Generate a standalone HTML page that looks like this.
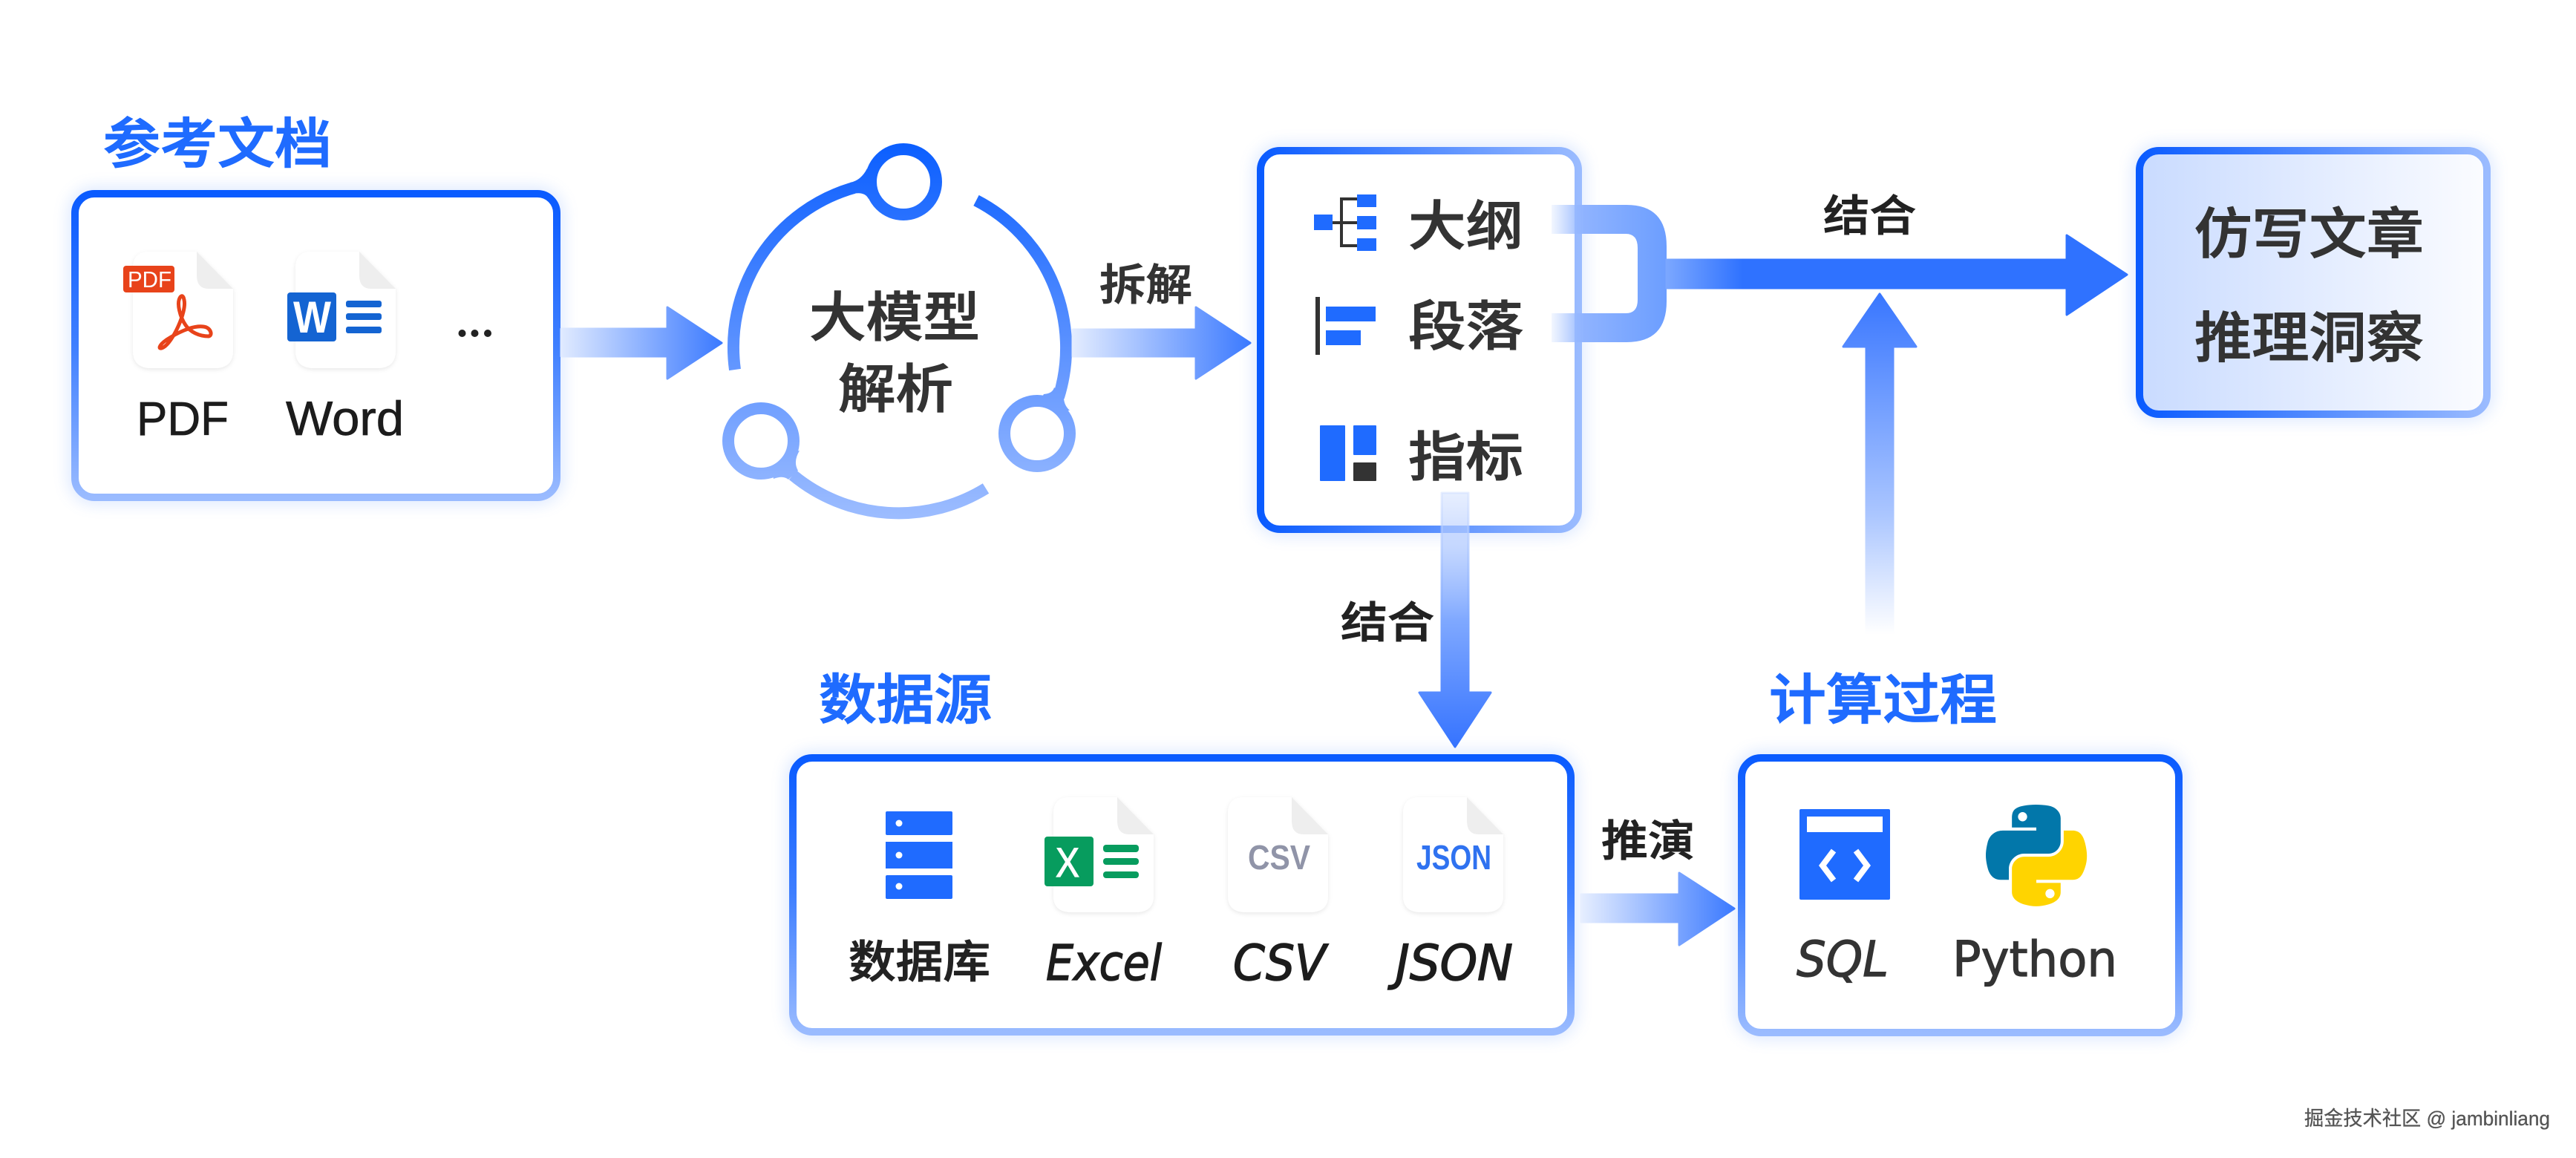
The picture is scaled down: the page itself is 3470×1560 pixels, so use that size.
<!DOCTYPE html>
<html><head><meta charset="utf-8"><style>
html,body{margin:0;padding:0;background:#fff}
svg{display:block}
text{font-family:"Liberation Sans","Noto Sans CJK SC",sans-serif}
.t{font-family:"Noto Sans CJK SC","Liberation Sans",sans-serif;font-weight:500;fill:#1F6BFF;stroke:#1F6BFF;stroke-width:1.4}
.c{font-family:"Noto Sans CJK SC","Liberation Sans",sans-serif;font-weight:500;fill:#333;stroke:#333;stroke-width:1.1}
.d{font-family:"Noto Sans CJK SC","Liberation Sans",sans-serif;font-weight:500;fill:#222;stroke:#222;stroke-width:1}
.i{font-family:"DejaVu Sans","Liberation Sans",sans-serif;font-style:italic;fill:#1c1c1c;stroke:#1c1c1c;stroke-width:1.5}
.s{font-family:"DejaVu Sans","Liberation Sans",sans-serif;fill:#333;stroke:#333;stroke-width:1.2}
.l{fill:#1c1c1c;stroke:#1c1c1c;stroke-width:.7}
</style></head><body>
<svg width="3470" height="1560" viewBox="0 0 3470 1560" xmlns="http://www.w3.org/2000/svg">
<defs>
<linearGradient id="bv" x1="0" y1="0" x2="0" y2="1"><stop offset="0" stop-color="#0A5BFF"/><stop offset=".5" stop-color="#3F7FFF"/><stop offset="1" stop-color="#9ABBFF"/></linearGradient>
<linearGradient id="bh" x1="0" y1="0" x2="1" y2="0"><stop offset="0" stop-color="#0A5BFF"/><stop offset="1" stop-color="#9ABBFF"/></linearGradient>
<linearGradient id="f3" x1="0" y1="0" x2="1" y2="0"><stop offset="0" stop-color="#C9DBFF"/><stop offset="1" stop-color="#FBFCFF"/></linearGradient>
<linearGradient id="ring" gradientUnits="userSpaceOnUse" x1="0" y1="190" x2="0" y2="700"><stop offset="0" stop-color="#0A5EFF"/><stop offset=".55" stop-color="#5C92FF"/><stop offset="1" stop-color="#9DBDFF"/></linearGradient>
<linearGradient id="a1" gradientUnits="userSpaceOnUse" x1="756" y1="0" x2="974" y2="0"><stop offset="0" stop-color="#E0EAFF"/><stop offset="1" stop-color="#3A79FF"/></linearGradient>
<linearGradient id="a2" gradientUnits="userSpaceOnUse" x1="1445" y1="0" x2="1686" y2="0"><stop offset="0" stop-color="#E3ECFF"/><stop offset="1" stop-color="#3A79FF"/></linearGradient>
<linearGradient id="a4" gradientUnits="userSpaceOnUse" x1="2130" y1="0" x2="2338" y2="0"><stop offset="0" stop-color="#E6EEFF"/><stop offset="1" stop-color="#3A79FF"/></linearGradient>
<linearGradient id="au" gradientUnits="userSpaceOnUse" x1="2085" y1="0" x2="2245" y2="0"><stop offset="0" stop-color="#A9C6FF" stop-opacity=".05"/><stop offset=".3" stop-color="#8FB3FF"/><stop offset="1" stop-color="#6C9EFF"/></linearGradient>
<linearGradient id="am" gradientUnits="userSpaceOnUse" x1="2245" y1="0" x2="2450" y2="0"><stop offset="0" stop-color="#7BA7FF"/><stop offset=".5" stop-color="#2F72FF"/><stop offset="1" stop-color="#2F72FF"/></linearGradient>
<linearGradient id="ad" gradientUnits="userSpaceOnUse" x1="0" y1="664" x2="0" y2="1008"><stop offset="0" stop-color="#CFDEFF" stop-opacity=".5"/><stop offset=".5" stop-color="#7FA8FF"/><stop offset="1" stop-color="#3573FF"/></linearGradient>
<linearGradient id="ap" gradientUnits="userSpaceOnUse" x1="0" y1="855" x2="0" y2="394"><stop offset="0" stop-color="#FFFFFF"/><stop offset=".35" stop-color="#ABC6FF"/><stop offset="1" stop-color="#3876FF"/></linearGradient>
<filter id="g" x="-15%" y="-15%" width="130%" height="130%"><feGaussianBlur stdDeviation="11"/></filter>
<filter id="fs" x="-20%" y="-20%" width="140%" height="140%"><feDropShadow dx="0" dy="2" stdDeviation="3" flood-color="#000" flood-opacity=".09"/></filter>
</defs>

<!-- Box 1 -->
<rect x="101" y="261" width="649" height="409" rx="26" fill="none" stroke="#7FABFF" stroke-width="12" opacity=".42" filter="url(#g)"/>
<rect x="101" y="261" width="649" height="409" rx="26" fill="#fff" stroke="url(#bv)" stroke-width="10"/>
<!-- Box 2 -->
<rect x="1698" y="203" width="428" height="510" rx="26" fill="none" stroke="#7FABFF" stroke-width="12" opacity=".42" filter="url(#g)"/>
<rect x="1698" y="203" width="428" height="510" rx="26" fill="#fff" stroke="url(#bh)" stroke-width="10"/>
<!-- Box 3 -->
<rect x="2882" y="203" width="468" height="355" rx="26" fill="none" stroke="#7FABFF" stroke-width="12" opacity=".42" filter="url(#g)"/>
<rect x="2882" y="203" width="468" height="355" rx="26" fill="url(#f3)" stroke="url(#bh)" stroke-width="10"/>
<!-- Box 4 -->
<rect x="1068" y="1021" width="1048" height="369" rx="26" fill="none" stroke="#7FABFF" stroke-width="12" opacity=".42" filter="url(#g)"/>
<rect x="1068" y="1021" width="1048" height="369" rx="26" fill="#fff" stroke="url(#bv)" stroke-width="10"/>
<!-- Box 5 -->
<rect x="2346" y="1021" width="589" height="370" rx="26" fill="none" stroke="#7FABFF" stroke-width="12" opacity=".42" filter="url(#g)"/>
<rect x="2346" y="1021" width="589" height="370" rx="26" fill="#fff" stroke="url(#bv)" stroke-width="10"/>

<!-- Titles -->
<text class="t" x="139" y="219" font-size="73" textLength="308" lengthAdjust="spacingAndGlyphs">参考文档</text>
<text class="t" x="1103" y="968" font-size="73" textLength="233" lengthAdjust="spacingAndGlyphs">数据源</text>
<text class="t" x="2383" y="968" font-size="73" textLength="307" lengthAdjust="spacingAndGlyphs">计算过程</text>

<!-- PDF file -->
<g transform="translate(179,339)" filter="url(#fs)"><path d="M22 0H86L135 50V133Q135 157 110 157H25Q0 157 0 133V22Q0 0 22 0Z" fill="#fff"/><path d="M86 0L135 50H102Q86 50 86 32Z" fill="#EEE"/></g>
<rect x="166" y="358" width="69" height="36" rx="4" fill="#E8431A"/>
<text x="172" y="387" font-size="31" fill="#fff" textLength="59" lengthAdjust="spacingAndGlyphs">PDF</text>
<path d="M243 400C237 408 243 428 250 438C256 447 268 453 281 453C287 452 284 441 274 440C258 438 236 450 224 458C214 465 212 472 220 468C232 462 252 420 248 404C247 398 245 398 243 400Z" fill="none" stroke="#E8431A" stroke-width="5"/>

<!-- Word file -->
<g transform="translate(398,339)" filter="url(#fs)"><path d="M22 0H86L135 50V133Q135 157 110 157H25Q0 157 0 133V22Q0 0 22 0Z" fill="#fff"/><path d="M86 0L135 50H102Q86 50 86 32Z" fill="#EEE"/></g>
<rect x="387" y="394" width="66" height="66" rx="4" fill="#1464D2"/>
<text x="395" y="448" font-size="60" font-weight="700" fill="#fff" textLength="51" lengthAdjust="spacingAndGlyphs">W</text>
<rect x="466" y="405" width="48" height="9" rx="3" fill="#1464D2"/><rect x="466" y="422" width="48" height="9" rx="3" fill="#1464D2"/><rect x="466" y="440" width="48" height="9" rx="3" fill="#1464D2"/>
<circle cx="622.5" cy="449" r="5" fill="#222"/><circle cx="639.5" cy="449" r="5" fill="#222"/><circle cx="657" cy="449" r="5" fill="#222"/>
<text class="l" x="184" y="586" font-size="64" textLength="124" lengthAdjust="spacingAndGlyphs">PDF</text>
<text class="l" x="385" y="586" font-size="65" textLength="159" lengthAdjust="spacingAndGlyphs">Word</text>

<!-- Arrow 1 -->
<path d="M756 443H899V414L972 462L899 510V480H756Z" fill="url(#a1)" stroke="url(#a1)" stroke-width="3" stroke-linejoin="round"/>

<!-- Ring -->
<g fill="none" stroke="url(#ring)" stroke-width="16">
<circle cx="1217" cy="245" r="44"/><circle cx="1397" cy="584" r="44"/><circle cx="1025" cy="594" r="44"/>
<path d="M990 498A223.5 223.5 0 0 1 1150 253"/>
<path d="M1315 270A223.5 223.5 0 0 1 1426 535"/>
<path d="M1068 640A223.5 223.5 0 0 0 1328 658"/>
</g>
<path d="M1145 246Q1160 243 1168 227L1175 247L1170 268Q1165 258 1150 261Z" fill="url(#ring)"/>
<path d="M1420 522Q1418 530 1406 531L1400 541L1425 553L1441 553Q1432 545 1433 532Z" fill="url(#ring)"/>
<path d="M1077 607Q1068 622 1075 634L1062 646Q1055 640 1042 645L1040 635L1065 610Z" fill="url(#ring)"/>
<text class="c" x="1090" y="453" font-size="72" textLength="230" lengthAdjust="spacingAndGlyphs">大模型</text>
<text class="c" x="1129" y="549" font-size="71" textLength="155" lengthAdjust="spacingAndGlyphs">解析</text>

<!-- Arrow 2 -->
<text class="c" x="1481" y="404" font-size="58" textLength="125" lengthAdjust="spacingAndGlyphs">拆解</text>
<path d="M1445 444H1611V414L1684 462L1611 510V480H1445Z" fill="url(#a2)" stroke="url(#a2)" stroke-width="3" stroke-linejoin="round"/>

<!-- Outline icon -->
<path d="M1795 300H1828M1828 268H1807V331H1828" fill="none" stroke="#333" stroke-width="4"/>
<rect x="1770" y="289" width="25" height="21" fill="#1F6BFF"/>
<rect x="1828" y="262" width="26" height="17" fill="#1F6BFF"/><rect x="1828" y="291" width="26" height="18" fill="#1F6BFF"/><rect x="1828" y="321" width="26" height="17" fill="#1F6BFF"/>
<text class="c" x="1897" y="330" font-size="72" textLength="155" lengthAdjust="spacingAndGlyphs">大纲</text>
<!-- Paragraph icon -->
<rect x="1772" y="400" width="6" height="78" fill="#333"/>
<rect x="1786" y="413" width="67" height="20" fill="#1F6BFF"/><rect x="1786" y="445" width="47" height="20" fill="#1F6BFF"/>
<text class="c" x="1897" y="465" font-size="72" textLength="155" lengthAdjust="spacingAndGlyphs">段落</text>
<!-- Metric icon -->
<rect x="1778" y="573" width="34" height="75" rx="1" fill="#1F6BFF"/><rect x="1823" y="573" width="31" height="40" rx="1" fill="#1F6BFF"/><rect x="1823" y="623" width="31" height="25" rx="1" fill="#333"/>
<text class="c" x="1897" y="641" font-size="72" textLength="155" lengthAdjust="spacingAndGlyphs">指标</text>

<!-- U connector and main arrow -->
<path d="M2090 276H2191Q2245 276 2245 332V406Q2245 461 2191 461H2090V422H2190Q2206 422 2206 404V334Q2206 315 2190 315H2090Z" fill="url(#au)"/>
<path d="M2245 350H2784V317L2865 370L2784 424V388H2245Z" fill="url(#am)" stroke="url(#am)" stroke-width="3" stroke-linejoin="round"/>
<text class="d" x="2456" y="311" font-size="58" textLength="125" lengthAdjust="spacingAndGlyphs">结合</text>
<path d="M2514 855V467H2483L2532 396L2581 467H2550V855Z" fill="url(#ap)" stroke="url(#ap)" stroke-width="3" stroke-linejoin="round"/>

<text class="c" x="2956" y="341" font-size="74" textLength="309" lengthAdjust="spacingAndGlyphs">仿写文章</text>
<text class="c" x="2956" y="481" font-size="74" textLength="309" lengthAdjust="spacingAndGlyphs">推理洞察</text>

<!-- Down arrow -->
<path d="M1942 664H1978V933H2008L1960 1006L1912 933H1942Z" fill="url(#ad)" stroke="url(#ad)" stroke-width="3" stroke-linejoin="round"/>
<text class="d" x="1806" y="859" font-size="58" textLength="126" lengthAdjust="spacingAndGlyphs">结合</text>

<!-- DB icon -->
<rect x="1193" y="1093" width="90" height="32" rx="2" fill="#1F6BFF"/><rect x="1193" y="1134" width="90" height="36" fill="#1F6BFF"/><rect x="1193" y="1179" width="90" height="32" rx="2" fill="#1F6BFF"/>
<circle cx="1211" cy="1109" r="4.5" fill="#fff"/><circle cx="1211" cy="1152" r="4.5" fill="#fff"/><circle cx="1211" cy="1194" r="4.5" fill="#fff"/>

<!-- Excel -->
<g transform="translate(1419,1074)" filter="url(#fs)"><path d="M22 0H86L135 50V133Q135 155 110 155H25Q0 155 0 133V22Q0 0 22 0Z" fill="#fff"/><path d="M86 0L135 50H102Q86 50 86 32Z" fill="#EEE"/></g>
<rect x="1407" y="1127" width="66" height="67" rx="4" fill="#079C5E"/>
<text x="1422" y="1181" font-size="56" fill="#fff" stroke="#fff" stroke-width="1.2" textLength="32" lengthAdjust="spacingAndGlyphs">X</text>
<rect x="1486" y="1138" width="48" height="10" rx="4" fill="#079C5E"/><rect x="1486" y="1156" width="48" height="9" rx="4" fill="#079C5E"/><rect x="1486" y="1174" width="48" height="9" rx="4" fill="#079C5E"/>
<!-- CSV -->
<g transform="translate(1654,1074)" filter="url(#fs)"><path d="M22 0H86L135 50V133Q135 155 110 155H25Q0 155 0 133V22Q0 0 22 0Z" fill="#fff"/><path d="M86 0L135 50H102Q86 50 86 32Z" fill="#EEE"/></g>
<text x="1681" y="1171" font-size="46" font-weight="700" fill="#9094A8" textLength="84" lengthAdjust="spacingAndGlyphs">CSV</text>
<!-- JSON -->
<g transform="translate(1890,1074)" filter="url(#fs)"><path d="M22 0H86L135 50V133Q135 155 110 155H25Q0 155 0 133V22Q0 0 22 0Z" fill="#fff"/><path d="M86 0L135 50H102Q86 50 86 32Z" fill="#EEE"/></g>
<text x="1908" y="1171" font-size="46" font-weight="700" fill="#2F72F0" textLength="101" lengthAdjust="spacingAndGlyphs">JSON</text>

<text class="d" x="1143" y="1317" font-size="60" textLength="191" lengthAdjust="spacingAndGlyphs">数据库</text>
<text class="i" x="1409" y="1320" font-size="66" textLength="156" lengthAdjust="spacingAndGlyphs">Excel</text>
<text class="i" x="1661" y="1320" font-size="66" textLength="125" lengthAdjust="spacingAndGlyphs">CSV</text>
<text class="i" x="1880" y="1320" font-size="66" textLength="158" lengthAdjust="spacingAndGlyphs">JSON</text>

<!-- Arrow 4 -->
<text class="d" x="2157" y="1153" font-size="58" textLength="126" lengthAdjust="spacingAndGlyphs">推演</text>
<path d="M2130 1205H2262V1176L2336 1224L2262 1273V1242H2130Z" fill="url(#a4)" stroke="url(#a4)" stroke-width="3" stroke-linejoin="round"/>

<!-- SQL icon -->
<rect x="2424" y="1090" width="122" height="122" rx="2" fill="#1F6BFF"/>
<rect x="2434" y="1100" width="102" height="21" fill="#fff"/>
<path d="M2470 1146L2455 1166L2470 1186M2500 1146L2515 1166L2500 1186" fill="none" stroke="#fff" stroke-width="8"/>
<!-- Python -->
<g transform="translate(2675,1084) scale(1.225,1.218)">
<path fill="#0277AA" d="M54.919 0c-4.584.022-8.961.413-12.813 1.095C30.76 3.099 28.7 7.295 28.7 15.032v10.219h26.813v3.406H18.638c-7.793 0-14.616 4.684-16.75 13.594-2.462 10.213-2.571 16.586 0 27.25 1.906 7.938 6.457 13.594 14.25 13.594h9.218v-12.25c0-8.85 7.657-16.656 16.75-16.656h26.782c7.454 0 13.406-6.138 13.406-13.625V15.032c0-7.266-6.13-12.725-13.406-13.937C64.282.328 59.502-.02 54.918 0zm-14.5 8.22c2.77 0 5.031 2.298 5.031 5.125 0 2.816-2.262 5.093-5.031 5.093-2.78 0-5.031-2.277-5.031-5.093 0-2.827 2.251-5.125 5.03-5.125z"/>
<path fill="#FFD400" d="M85.638 28.657v11.906c0 9.231-7.826 17-16.75 17H42.106c-7.336 0-13.406 6.279-13.406 13.625v25.531c0 7.266 6.319 11.54 13.406 13.625 8.488 2.496 16.627 2.947 26.782 0 6.75-1.954 13.406-5.888 13.406-13.625V86.5H55.513v-3.405H95.7c7.793 0 10.696-5.436 13.406-13.594 2.8-8.399 2.68-16.476 0-27.25-1.925-7.758-5.604-13.594-13.406-13.594zM70.575 93.313c2.78 0 5.031 2.278 5.031 5.094 0 2.827-2.251 5.125-5.031 5.125-2.77 0-5.031-2.298-5.031-5.125 0-2.816 2.261-5.094 5.031-5.094z"/>
</g>
<text class="s" x="2420" y="1315" font-size="66" font-style="italic" textLength="124" lengthAdjust="spacingAndGlyphs">SQL</text>
<text class="s" x="2630" y="1315" font-size="66" textLength="222" lengthAdjust="spacingAndGlyphs">Python</text>

<!-- Watermark -->
<text x="3104" y="1516" font-size="27" fill="#555" stroke="#555" stroke-width=".3" font-family="'Liberation Sans','Noto Sans CJK SC',sans-serif" textLength="331" lengthAdjust="spacingAndGlyphs">掘金技术社区 @ jambinliang</text>
</svg>
</body></html>
